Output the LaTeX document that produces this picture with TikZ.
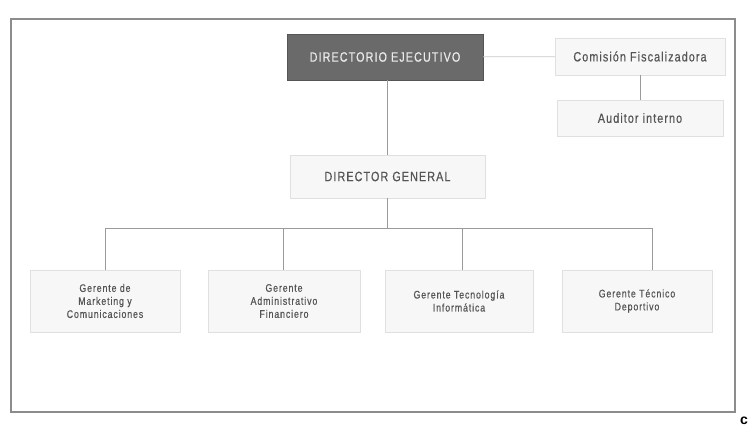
\documentclass[tikz,border=0pt]{standalone}
\usepackage{fontspec}
\setmainfont{Liberation Sans}
\usetikzlibrary{shadows}
\definecolor{framegray}{HTML}{8C8C8C}
\definecolor{execgray}{HTML}{6A6A6A}
\definecolor{boxfill}{HTML}{F7F7F7}
\definecolor{boxline}{HTML}{E0E0E0}
\definecolor{textgray}{HTML}{555555}
\definecolor{linkgray}{HTML}{9A9A9A}
% condensed, tracked lettering
\newcommand\orgfont[2]{\fontsize{#1}{#2}\selectfont\addfontfeatures{FakeStretch=0.8,LetterSpace=8,FakeBold=0.4}}
\begin{document}
\begin{tikzpicture}[
       x=1pt, y=-1pt,
       execbox/.style={rectangle, draw=execgray!80!black, fill=execgray, minimum width=196pt, minimum height=46pt, align=center, text=white!92!black, font=\orgfont{13.5}{16}, drop shadow={shadow xshift=1pt, shadow yshift=-1.5pt, fill=black!25}},
       unitbox/.style={rectangle, draw=boxline, fill=boxfill, align=center, text=textgray, font=\orgfont{13.5}{16}, drop shadow={shadow xshift=1pt, shadow yshift=-1.5pt, fill=black!12}},
       managerbox/.style={unitbox, minimum height=62pt, font=\orgfont{11}{13}},
       link/.style={draw=linkgray, line width=0.8pt}
   ]
   \useasboundingbox (0,0) rectangle (748,427);
   % outer frame
   \draw[framegray, line width=2.5pt] (11,19) rectangle (735,412);

   \node[execbox] (exec) at (385,57) {DIRECTORIO EJECUTIVO};
   \node[unitbox, minimum width=170pt, minimum height=37pt] (fisc) at (640,56.5) {Comisión Fiscalizadora};
   \node[unitbox, minimum width=166pt, minimum height=36pt] (audit) at (640,118) {Auditor interno};
   \node[unitbox, minimum width=195pt, minimum height=43pt] (general) at (387.5,176.5) {DIRECTOR GENERAL};

   \node[managerbox, minimum width=150pt] (mkt) at (105,301) {Gerente de\\Marketing y\\Comunicaciones};
   \node[managerbox, minimum width=152pt] (admin) at (284,301) {Gerente\\Administrativo\\Financiero};
   \node[managerbox, minimum width=148pt] (tech) at (459,301) {Gerente Tecnología\\Informática};
   \node[managerbox, minimum width=150pt] (sport) at (637,301) {Gerente Técnico\\Deportivo};

   \coordinate (bus) at (387.5,228);
   \coordinate (b1) at (105,228);
   \coordinate (b2) at (283,228);
   \coordinate (b3) at (462,228);
   \coordinate (b4) at (652,228);

   \draw[link, draw=linkgray!55] (exec) -- (fisc);
   \draw[link] (fisc) -- (audit);
   \draw[link] (general.north |- exec.south) -- (general.north);
   \draw[link] (general) -- (bus);
   \draw[link] (b1) -- (b4);
   \draw[link] (b1) -- (b1 |- mkt.north);
   \draw[link] (b2) -- (b2 |- admin.north);
   \draw[link] (b3) -- (b3 |- tech.north);
   \draw[link] (b4) -- (b4 |- sport.north);

   \node[font=\bfseries\fontsize{14}{14}\selectfont, anchor=west, inner sep=0pt] (mark) at (740,421) {c};
\end{tikzpicture}
\end{document}
